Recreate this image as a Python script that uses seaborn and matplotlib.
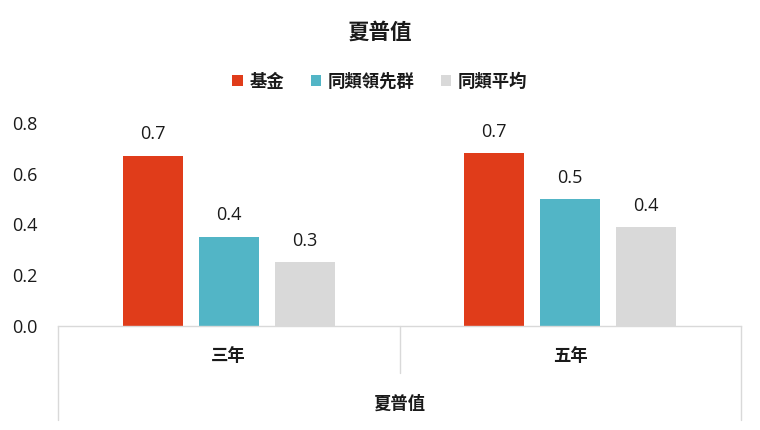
import matplotlib
matplotlib.use("Agg")
import matplotlib.pyplot as plt
import seaborn as sns
import pandas as pd

categories = ["三年", "五年"]
series = ["基金", "同類領先群", "同類平均"]
fund = [0.67, 0.68]
leaders = [0.352, 0.50]
average = [0.252, 0.39]
colors = ["#E03C1A", "#52B5C6", "#D9D9D9"]
title = "夏普值"
group_label = "夏普值"

rows = []
for s, vals in zip(series, [fund, leaders, average]):
    for c, v in zip(categories, vals):
        rows.append({"period": c, "series": s, "value": v})
df = pd.DataFrame(rows)

sns.set_theme(style="white")
plt.rcParams["font.family"] = ["Open Sans", "Noto Sans CJK TC", "DejaVu Sans"]

txt = "#1a1a1a"
cjk_w = "semibold"
fig = plt.figure(figsize=(7.6, 4.3), dpi=100)
ax = fig.add_axes([58/760, 1-326/430, (741-58)/760, (326-123)/430])

sns.barplot(data=df, x="period", y="value", hue="series", order=categories,
            hue_order=series, palette=colors, width=0.668, gap=0.21,
            saturation=1, ax=ax, legend=True, errorbar=None, linewidth=0)

for cont in ax.containers:
    ax.bar_label(cont, fmt="%.1f", padding=9, fontsize=13, color=txt)

ax.set_ylim(0, 0.8)
ax.set_xlim(-0.5, 1.5)
ax.set_yticks([0, 0.2, 0.4, 0.6, 0.8])
ax.set_yticklabels(["0.0", "0.2", "0.4", "0.6", "0.8"], fontsize=13, color=txt)
for lbl in ax.get_yticklabels():
    lbl.set_horizontalalignment("left")
ax.tick_params(axis="y", length=0, pad=33)
ax.tick_params(axis="x", length=0, pad=16, labelsize=12.5, labelcolor=txt)
for lbl in ax.get_xticklabels():
    lbl.set_fontweight(cjk_w)
ax.set_xlabel("")
ax.set_ylabel("")
for sp in ["top", "right", "left"]:
    ax.spines[sp].set_visible(False)
ax.spines["bottom"].set_color("#D9D9D9")
ax.spines["bottom"].set_linewidth(1)

lc = "#D9D9D9"
h = 326 - 123
ax.plot([0, 0], [0, -(420-326)/h], transform=ax.transAxes, color=lc, lw=1, clip_on=False)
ax.plot([0.5, 0.5], [0, -(373-326)/h], transform=ax.transAxes, color=lc, lw=1, clip_on=False)
ax.plot([1, 1], [0, -(420-326)/h], transform=ax.transAxes, color=lc, lw=1, clip_on=False)
ax.text(0.5, -(404-326)/h, group_label, transform=ax.transAxes, ha="center", va="center",
        fontsize=12.5, fontweight=cjk_w, color=txt)

leg = ax.legend(loc="center", bbox_to_anchor=(0.5, 1 - 82/430), bbox_transform=fig.transFigure,
                ncol=3, frameon=False, fontsize=12.5, handlelength=0.6, handleheight=0.6,
                handletextpad=0.4, columnspacing=1.5)
for t in leg.get_texts():
    t.set_color(txt)
    t.set_fontweight(cjk_w)

fig.text(0.5, 1 - 33/430, title, ha="center", va="center", fontsize=15.5, fontweight="bold",
         color=txt)

fig.savefig("out.png", dpi=100)
